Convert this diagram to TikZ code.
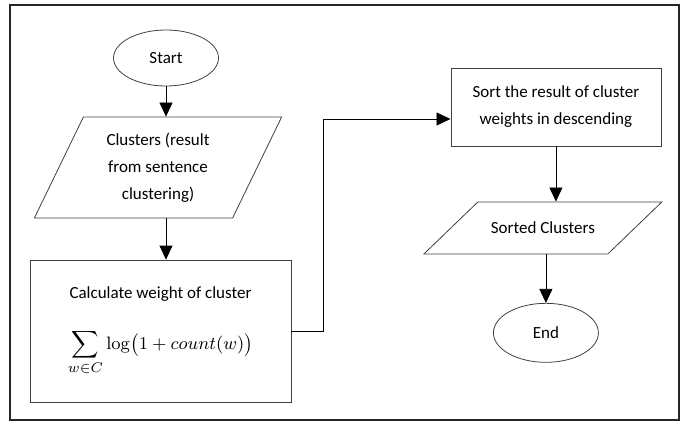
\documentclass[tikz,border=0pt]{standalone}
\usepackage{amsmath}
\usepackage{amssymb}
\usepackage[no-math]{fontspec}
\setmainfont{Carlito}
\usetikzlibrary{shapes.geometric,arrows.meta}

\tikzset{
  >={Triangle[width=6.5pt,length=7pt]},
  every node/.style={font=\fontsize{8.5}{13.5}\selectfont},
  terminal/.style={draw=black!75,ellipse,minimum width=52.5pt,minimum height=28pt,inner sep=0pt},
  io/.style={draw=black!75,trapezium,trapezium stretches=true,align=center,inner sep=0pt},
  process/.style={draw=black!75,rectangle,align=center,inner sep=0pt}
}

\begin{document}
\begin{tikzpicture}
      \useasboundingbox (0,0) rectangle (344pt,-213.5pt);
      \draw[line width=1.2pt,black!85] (5pt,-2.5pt) rectangle (339.5pt,-210pt);

      \node[terminal] (start) at (83pt,-29pt) {Start};
      \node[io,below of=start,yshift=-26.3pt,xshift=-4pt,minimum width=124pt,minimum height=50.5pt,
            trapezium left angle=64,trapezium right angle=116] (clusters) {Clusters (result\\from sentence\\clustering)};
      \node[process,below of=clusters,yshift=-53.3pt,xshift=1.25pt,minimum width=130.5pt,minimum height=71pt] (calc)
            {Calculate weight of cluster\\[12pt]{\fontsize{9.5}{11}\selectfont$\displaystyle\sum_{w\in C}\log\bigl(1+count(w)\bigr)$}};
      \node[process,right of=start,xshift=166.5pt,yshift=-24.5pt,minimum width=105pt,minimum height=39pt] (sort)
            {Sort the result of cluster\\weights in descending};
      \node[io,below of=sort,yshift=-32pt,xshift=-6.5pt,minimum width=119pt,minimum height=26pt,inner ysep=8.6pt,
            trapezium left angle=47,trapezium right angle=133] (sorted) {Sorted Clusters};
      \node[terminal,below of=sorted,yshift=-24pt,xshift=1.5pt,minimum height=29.5pt] (end) {End};

      \draw[->] (start.south) -- (start.south |- clusters.north);
      \draw[->] (start.south |- clusters.south) -- (start.south |- calc.north);
      \draw[->] (calc.east) -- ++(16pt,0) |- ([yshift=-6pt]sort.west);
      \draw[->] (sort.south) -- (sort.south |- sorted.north);
      \draw[->] (end.north |- sorted.south) -- (end.north);
    \end{tikzpicture}
\end{document}
